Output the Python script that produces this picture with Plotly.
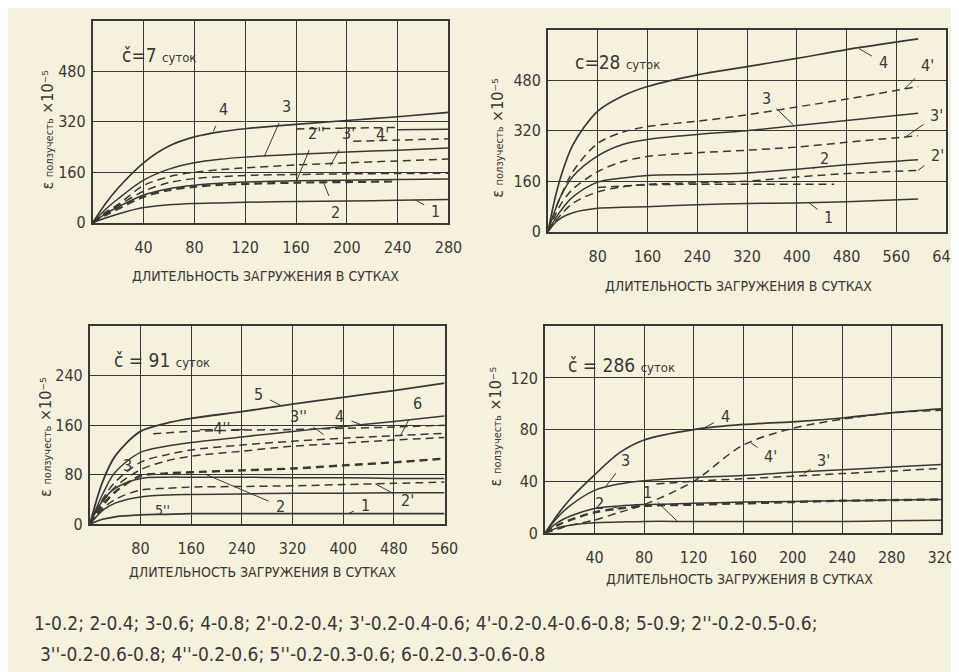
import plotly.graph_objects as go

W, H = 959, 672
BG = '#f6f1dd'
INK = '#3a3834'
FONT = "'Liberation Sans Narrow', 'DejaVu Sans Condensed', 'Roboto Condensed', 'Arial Narrow', sans-serif"

# ---------------- data ----------------
# Panel 1: č = 7 суток
p1_days = [0, 10, 20, 40, 60, 80, 100, 120, 160, 200, 240, 280]
p1_c1 = [0, 15, 28, 48, 57, 61, 63, 65, 67, 69, 71, 74]
p1_c2 = [0, 28, 50, 88, 108, 119, 125, 129, 133, 135, 137, 139]
p1_c3 = [0, 42, 76, 135, 170, 190, 201, 208, 217, 224, 230, 237]
p1_c4 = [0, 60, 110, 190, 243, 272, 288, 298, 312, 324, 336, 350]
p1_c2p_days = [0, 10, 20, 40, 60, 80, 100, 120, 160, 200, 240]
p1_c2p = [0, 24, 44, 82, 103, 114, 120, 123, 127, 129, 131]
p1_c2pp = [0, 30, 54, 100, 127, 140, 146, 150, 153, 155, 156, 157]
p1_c3p = [0, 33, 58, 118, 146, 160, 168, 174, 183, 190, 196, 202]
p1_c4p_days = [160, 200, 240]
p1_c4p = [297, 300, 302]
p1_c4pp_days = [205, 240, 280]
p1_c4pp = [258, 262, 266]
p1_c4b_days = [240, 280]
p1_c4b = [295, 296]

# Panel 2: c = 28 суток
p2_days = [0, 10, 20, 40, 80, 120, 160, 240, 320, 400, 480, 595]
p2_c1 = [0, 25, 42, 60, 74, 77, 79, 85, 89, 91, 95, 103]
p2_c2 = [0, 35, 65, 110, 157, 170, 178, 181, 186, 198, 212, 228]
p2_c3 = [0, 60, 110, 175, 240, 276, 292, 308, 320, 336, 352, 375]
p2_c4 = [0, 95, 170, 275, 382, 430, 460, 497, 523, 549, 577, 611]
p2_c2p = [0, 28, 52, 90, 126, 142, 150, 155, 160, 173, 184, 194]
p2_c3p = [0, 45, 85, 135, 190, 222, 238, 250, 258, 268, 283, 304]
p2_c4p = [0, 60, 110, 190, 280, 315, 333, 350, 370, 395, 420, 460]
p2_c2pp_days = [80, 160, 240, 320, 400, 460]
p2_c2pp = [140, 148, 150, 150, 150, 150]

# Panel 3: č = 91 суток
p3_days = [0, 20, 40, 80, 120, 160, 240, 320, 400, 480, 560]
p3_c1 = [0, 8, 12, 15, 16, 17, 17, 17, 17, 17, 17]
p3_c2 = [0, 22, 34, 44, 47, 48, 49, 50, 50, 51, 51]
p3_c3 = [0, 38, 58, 74, 76, 76, 76, 75, 75, 74, 74]
p3_c4 = [0, 48, 84, 116, 126, 132, 141, 150, 158, 166, 175]
p3_c5 = [0, 68, 110, 150, 163, 171, 182, 194, 205, 216, 228]
p3_c2p = [0, 25, 40, 55, 58, 60, 61, 62, 64, 66, 68]
p3_c3p = [0, 30, 52, 78, 82, 84, 87, 90, 95, 100, 106]
p3_c3pp = [0, 35, 60, 88, 102, 110, 118, 126, 131, 136, 140]
p3_c6 = [0, 40, 68, 100, 112, 120, 128, 134, 139, 143, 147]
p3_c4pp_days = [100, 160, 240, 320, 400, 480, 560]
p3_c4pp = [146, 150, 152, 153, 155, 157, 160]

# Panel 4: č = 286 суток
p4_days = [0, 10, 20, 40, 60, 80, 120, 160, 200, 240, 280, 320]
p4_c1 = [0, 4, 6, 8, 8.5, 9, 9, 9, 9, 9, 9.5, 10]
p4_c2 = [0, 8, 13, 19, 21, 22, 23, 24, 24.5, 25, 25.5, 26]
p4_c3 = [0, 12, 21, 33, 38, 40.5, 43, 44.5, 47, 49, 51, 53]
p4_c4 = [0, 14, 26, 45, 62, 72, 80, 84, 86, 89, 93, 96]
p4_c2p = [0, 6, 10, 16, 19, 21, 22, 23, 24, 25, 25.5, 26]
p4_c4p = [0, 3, 6, 10, 16, 22, 40, 68, 81, 88, 93, 95]
p4_c3p_days = [90, 120, 160, 200, 240, 280, 320]
p4_c3p = [38, 40, 42, 44, 46, 48, 50]

x1_ticks = [40, 80, 120, 160, 200, 240, 280]
y1_ticks = [0, 160, 320, 480]
x2_ticks = [80, 160, 240, 320, 400, 480, 560, 640]
y2_ticks = [0, 160, 320, 480]
x3_ticks = [80, 160, 240, 320, 400, 480, 560]
y3_ticks = [0, 80, 160, 240]
x4_ticks = [40, 80, 120, 160, 200, 240, 280, 320]
y4_ticks = [0, 40, 80, 120]

x_title = 'ДЛИТЕЛЬНОСТЬ ЗАГРУЖЕНИЯ В СУТКАХ'
y_title = "ε <span style='font-size:11px'>ползучесть</span> ×10⁻⁵"
legend_line1 = "1-0.2; 2-0.4; 3-0.6; 4-0.8; 2'-0.2-0.4; 3'-0.2-0.4-0.6; 4'-0.2-0.4-0.6-0.8; 5-0.9; 2''-0.2-0.5-0.6;"
legend_line2 = "3''-0.2-0.6-0.8; 4''-0.2-0.6; 5''-0.2-0.3-0.6; 6-0.2-0.3-0.6-0.8"

# ---------------- figure ----------------
fig = go.Figure()
DASH = '8px,5px'


def add(x, y, ax, dashed=False, width=1.5, name=''):
    fig.add_trace(go.Scatter(
        x=x, y=y, mode='lines', name=name, xaxis='x' + ax, yaxis='y' + ax,
        line=dict(color=INK, width=width, dash=DASH if dashed else 'solid',
                  shape='spline', smoothing=0.9),
        hoverinfo='skip', showlegend=False))


# panel 1
add(p1_days, p1_c1, '', name='1')
add(p1_days, p1_c2, '', name='2')
add(p1_days, p1_c3, '', name='3')
add(p1_days, p1_c4, '', width=1.7, name='4')
add(p1_c2p_days, p1_c2p, '', dashed=True, width=2.2, name="2'")
add(p1_days, p1_c2pp, '', dashed=True, name="2''")
add(p1_days, p1_c3p, '', dashed=True, name="3'")
add(p1_c4p_days, p1_c4p, '', dashed=True, name="4'")
add(p1_c4pp_days, p1_c4pp, '', dashed=True, name="4''")
add(p1_c4b_days, p1_c4b, '', name='4b')

# panel 2
add(p2_days, p2_c1, '2', name='1')
add(p2_days, p2_c2, '2', name='2')
add(p2_days, p2_c3, '2', name='3')
add(p2_days, p2_c4, '2', width=1.7, name='4')
add(p2_days, p2_c2p, '2', dashed=True, name="2'")
add(p2_days, p2_c3p, '2', dashed=True, name="3'")
add(p2_days, p2_c4p, '2', dashed=True, name="4'")
add(p2_c2pp_days, p2_c2pp, '2', dashed=True, name="2''")

# panel 3
add(p3_days, p3_c1, '3', width=1.8, name='1')
add(p3_days, p3_c2, '3', name='2')
add(p3_days, p3_c3, '3', name='3')
add(p3_days, p3_c4, '3', name='4')
add(p3_days, p3_c5, '3', width=1.8, name='5')
add(p3_days, p3_c2p, '3', dashed=True, name="2'")
add(p3_days, p3_c3p, '3', dashed=True, width=2.4, name="3'")
add(p3_days, p3_c3pp, '3', dashed=True, name="3''")
add(p3_days, p3_c6, '3', dashed=True, name='6')
add(p3_c4pp_days, p3_c4pp, '3', dashed=True, name="4''")

# panel 4
add(p4_days, p4_c1, '4', name='1')
add(p4_days, p4_c2, '4', name='2')
add(p4_days, p4_c3, '4', name='3')
add(p4_days, p4_c4, '4', width=1.7, name='4')
add(p4_days, p4_c2p, '4', dashed=True, width=2.4, name="2'")
add(p4_days, p4_c4p, '4', dashed=True, name="4'")
add(p4_c3p_days, p4_c3p, '4', dashed=True, name="3'")


def px_dom(a, b, total, flip=False):
    if flip:
        return [1 - b / total, 1 - a / total]
    return [a / total, b / total]


tickfont = dict(family=FONT, size=16, color=INK)


def xax(domain, rng, ticks, anchor):
    return dict(domain=domain, range=rng, tickvals=ticks, ticktext=[str(t) for t in ticks],
                showgrid=True, gridcolor=INK, gridwidth=1.3, zeroline=False,
                showline=True, linecolor=INK, linewidth=1.8, mirror=True,
                ticks='', tickfont=tickfont, ticklabelstandoff=9, anchor=anchor,
                fixedrange=True)


def yax(domain, rng, ticks, anchor):
    return dict(domain=domain, range=rng, tickvals=ticks, ticktext=[str(t) for t in ticks],
                showgrid=True, gridcolor=INK, gridwidth=1.3, zeroline=False,
                showline=True, linecolor=INK, linewidth=1.8, mirror=True,
                ticks='', tickfont=tickfont, ticklabelstandoff=2, anchor=anchor,
                fixedrange=True)


layout = dict(
    width=W, height=H, margin=dict(l=0, r=0, t=0, b=0),
    paper_bgcolor=BG, plot_bgcolor=BG, showlegend=False,
    font=dict(family=FONT, color=INK, size=15),
    xaxis=xax(px_dom(86, 447, W), [0, 280], x1_ticks, 'y'),
    yaxis=yax(px_dom(13, 218, H, True), [0, 640], y1_ticks, 'x'),
    xaxis2=xax(px_dom(548, 952, W), [0, 640], x2_ticks, 'y2'),
    yaxis2=yax(px_dom(22, 227, H, True), [0, 640], y2_ticks, 'x2'),
    xaxis3=xax(px_dom(83, 443, W), [0, 560], x3_ticks, 'y3'),
    yaxis3=yax(px_dom(323, 524, H, True), [0, 320], y3_ticks, 'x3'),
    xaxis4=xax(px_dom(545, 947, W), [0, 320], x4_ticks, 'y4'),
    yaxis4=yax(px_dom(323, 533, H, True), [0, 160], y4_ticks, 'x4'),
)
fig.update_layout(**layout)

ann = []


def ptext(px, py, text, size=15, angle=0, xanchor='center'):
    ann.append(dict(x=px / W, y=1 - py / H, xref='paper', yref='paper', text=text,
                    showarrow=False, textangle=angle, xanchor=xanchor, yanchor='middle',
                    font=dict(family=FONT, size=size, color=INK)))


def label(ax_id, x, y, text, dx=0, dy=0, arrow=True):
    d = dict(x=x, y=y, xref='x' + ax_id, yref='y' + ax_id, text=text,
             font=dict(family=FONT, size=16, color=INK))
    if arrow:
        d.update(showarrow=True, arrowhead=0, arrowwidth=1, arrowcolor=INK, ax=dx, ay=dy,
                 standoff=0, startstandoff=6)
    else:
        d.update(showarrow=False)
    ann.append(d)


# panel titles
ptext(153, 48, "č=7 <span style='font-size:13px'>суток</span>", size=19)
ptext(619, 55, "c=28 <span style='font-size:13px'>суток</span>", size=19)
ptext(156, 357, "č = 91 <span style='font-size:13px'>суток</span>", size=19)
ptext(623, 362, "č = 286 <span style='font-size:13px'>суток</span>", size=19)

# axis titles
ptext(261, 272, x_title, size=14)
ptext(741, 282, x_title, size=14)
ptext(258, 573, x_title, size=14)
ptext(742, 580, x_title, size=14)
ptext(40, 123, y_title, size=16, angle=-90)
ptext(496, 132, y_title, size=16, angle=-90)
ptext(38, 435, y_title, size=16, angle=-90)
ptext(495, 425, y_title, size=16, angle=-90)

# curve labels panel 1
label('', 95, 290, '4', 10, -22)
label('', 135, 210, '3', 22, -50)
label('', 160, 128, "2''", 20, -49)
label('', 187, 181, "3'", 18, -32)
label('', 228, 280, "4'", arrow=False)
label('', 181, 134, '2', 13, 32)
label('', 254, 72, '1', 20, 11)

# panel 2
label('2', 500, 580, '4', 24, 14)
label('2', 573, 452, "4'", 23, -23)
label('2', 394, 339, '3', -27, -26)
label('2', 573, 298, "3'", 32, -22)
label('2', 426, 200, '2', 12, -10)
label('2', 595, 194, "2'", 19, -15)
label('2', 420, 91, '1', 19, 15)

# panel 3
label('3', 303, 191, '5', -23, -12)
label('3', 369, 145, "3''", -25, -18)
label('3', 428, 161, '4', -21, -8)
label('3', 490, 142, '6', 17, -33)
label('3', 208, 154, "—4''—", arrow=False)
label('3', 451, 65, "2'", 32, 17)
label('3', 408, 17, '1', 17, -8)
label('3', 182, 81, '2', 75, 32)
label('3', 54, 65, '3', 4, -18)
ptext(157, 510, "5''", size=14)

# panel 4
label('4', 126, 80, '4', 24, -13)
label('4', 49, 36, '3', 20, -26)
label('4', 60, 19, '2', -20, -5)
label('4', 107, 9, '1', -30, -29)
label('4', 166, 70, "4'", 20, 14)
label('4', 209, 46, "3'", 20, -13)

# bottom legend text
ptext(24, 624, legend_line1, size=19, xanchor='left')
ptext(30, 656, legend_line2, size=19, xanchor='left')

fig.update_layout(annotations=ann)
fig.write_html('out.html')
